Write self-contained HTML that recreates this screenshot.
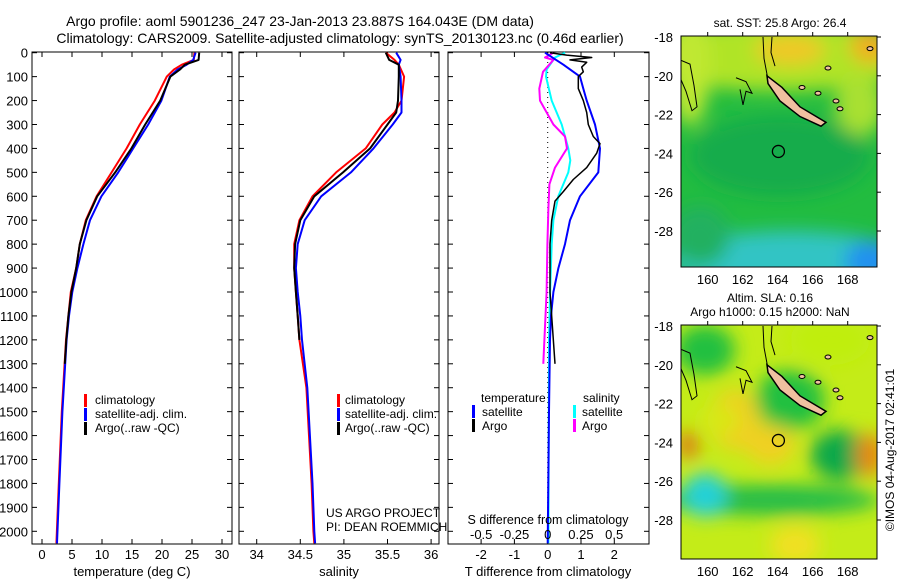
<!DOCTYPE html>
<html><head><meta charset="utf-8"><style>
body{margin:0;background:#fff}
svg{display:block;font-family:"Liberation Sans",sans-serif}
</style></head><body>
<svg id="s" width="900" height="580" viewBox="0 0 900 580">
<defs>
<filter id="bl" x="-50%" y="-50%" width="200%" height="200%"><feGaussianBlur stdDeviation="9"/></filter>
<clipPath id="c1"><rect x="681" y="36" width="196" height="231"/></clipPath>
<clipPath id="c2"><rect x="681" y="325" width="196" height="234"/></clipPath>
</defs>
<text x="300" y="26" font-size="14" text-anchor="middle">Argo profile: aoml 5901236_247 23-Jan-2013 23.887S 164.043E (DM data)</text>
<text x="340" y="43" font-size="14" text-anchor="middle">Climatology: CARS2009. Satellite-adjusted climatology: synTS_20130123.nc (0.46d earlier)</text>
<g id="g"></g>
</svg>
<script>
// depth grids
const depthT = [0,30,50,70,100,200,300,400,500,600,700,800,900,1000,1100,1200,1500,1800,2050];
const tempClim = [25.4,25.3,23.3,22.0,20.8,18.8,16.3,14.1,11.6,9.1,7.3,6.3,5.7,4.8,4.4,4.0,3.3,2.8,2.4];
const tempSat  = [25.6,25.2,24.1,22.6,21.3,19.9,17.7,15.2,12.7,9.9,8.0,6.9,5.9,5.05,4.5,4.1,3.4,2.9,2.5];
const depthArgo = [0,30,50,70,100,200,300,400,500,600,700,800,900,1000,1100,1200,1300];
const tempArgo = [26.2,26.1,23.8,23.0,21.4,19.7,17.2,14.9,12.2,9.2,7.4,6.3,5.7,4.9,4.4,4.05,3.8];
const depthS = [0,30,50,100,200,250,300,400,500,600,700,800,900,1000,1100,1200,1400,1600,1800,2000,2050];
const salClim = [35.48,35.58,35.63,35.69,35.66,35.58,35.44,35.25,34.91,34.64,34.49,34.43,34.43,34.45,34.47,34.49,34.57,34.6,34.63,34.65,34.66];
const salSat  = [35.6,35.65,35.63,35.65,35.66,35.66,35.56,35.34,35.08,34.74,34.55,34.47,34.45,34.47,34.5,34.52,34.58,34.61,34.64,34.66,34.67];
const salArgo = [35.48,35.52,35.63,35.63,35.62,35.6,35.5,35.3,34.99,34.66,34.5,34.44,34.43,34.45,34.47,34.49];
const depthDT = [0,50,100,150,200,300,400,500,600,700,800,900,1000,1100,1200,1500,2050];
const dTsat = [-0.08,0.47,0.97,1.07,1.17,1.42,1.57,1.52,0.97,0.67,0.52,0.32,0.17,0.1,0.07,0.04,0.0];
const depthDTa = [0,10,20,30,40,60,80,100,150,200,250,300,350,380,420,480,530,580,620,700,800,1000,1300];
const dTargo = [0.07,0.57,1.32,0.67,1.17,1.02,1.07,0.92,0.92,1.07,1.17,1.22,1.37,1.57,1.47,1.17,0.77,0.47,0.22,0.12,0.07,0.07,0.22];
const depthDS = [0,20,70,100,200,300,400,450,500,600,700,800,1000,1200,2050];
const dSsat = [0.13,0.055,-0.008,-0.013,0.03,0.105,0.155,0.17,0.155,0.08,0.043,0.03,0.018,0.01,0.005];
const depthDSa = [0,20,30,80,150,200,300,350,400,480,550,650,800,1000,1300];
const dSargo = [0.043,-0.02,0.043,-0.035,-0.063,-0.058,0.043,0.13,0.145,0.055,0.013,0.005,-0.002,-0.008,-0.033];
const depthTicks = [0,100,200,300,400,500,600,700,800,900,1000,1100,1200,1300,1400,1500,1600,1700,1800,1900,2000];
const tTicks = [0,5,10,15,20,25,30];
const sTicks = [34,34.5,35,35.5,36];
const dtTicks = [-2,-1,0,1,2];
const dsTicks = [-0.5,-0.25,0,0.25,0.5];
const dsLabels = ['-0.5','-0.25','0','0.25','0.5'];
const lonTicks = [160,162,164,166,168];
const latTicks = [18,20,22,24,26,28];

const NS='http://www.w3.org/2000/svg', G=document.getElementById('g');
function el(t,a,p){const e=document.createElementNS(NS,t);for(const k in a)e.setAttribute(k,a[k]);(p||G).appendChild(e);return e;}
const Y0=52.7, YTOP=52, YBOT=544;
const yD = d => Y0 + 0.2393*d;
const xT = v => 42 + 6*v;
const xS = v => 256.7 + 87.2*(v-34);
const xDT = v => 547.7 + 33.3*v;
const xDS = v => 547.7 + 133*v;

function frame(x0,x1,name,xt,xf,labs,ylab){
  const r=el('rect',{x:x0,y:YTOP,width:x1-x0,height:YBOT-YTOP,fill:'none',stroke:'#000','stroke-width':1});
  
  
  depthTicks.forEach(d=>{
    const y=yD(d);
    el('line',{x1:x0,x2:x0+5,y1:y,y2:y,stroke:'#000'});
    el('line',{x1:x1-5,x2:x1,y1:y,y2:y,stroke:'#000'});
    if(ylab){const t=el('text',{x:28,y:y+5,'font-size':13,'text-anchor':'end'});t.textContent=d;
      
      }
  });
  xt.forEach((v,i)=>{
    const x=xf(v);
    el('line',{x1:x,x2:x,y1:YTOP,y2:YTOP+5,stroke:'#000'});
    el('line',{x1:x,x2:x,y1:YBOT-5,y2:YBOT,stroke:'#000'});
    if(labs){const t=el('text',{x:x,y:559,'font-size':13,'text-anchor':'middle'});t.textContent=labs[i];
      
      }
  });
}
function line(ds,vs,xf,color,name,w){
  const pts=ds.map((d,i)=>xf(vs[i]).toFixed(1)+','+yD(d).toFixed(1)).join(' ');
  const p=el('polyline',{points:pts,fill:'none',stroke:color,'stroke-width':w||2,'stroke-linejoin':'round'});
  
  
}
function txt(x,y,s,fs,name,anchor,extra){
  const t=el('text',Object.assign({x:x,y:y,'font-size':fs,'text-anchor':anchor||'start'},extra||{}));t.textContent=s;
  
  
  return t;
}
function legTick(x,y,c){el('rect',{x:x,y:y-11,width:3,height:13,fill:c});}

// panel 1
frame(32,232,'temperature-panel',tTicks,xT,tTicks.map(String),true);
line(depthT,tempClim,xT,'#ff0000','temp-climatology-line');
line(depthT,tempSat,xT,'#0000ff','temp-satellite-line');
line(depthArgo,tempArgo,xT,'#000','temp-argo-line');
txt(132,576,'temperature (deg C)',13,'temperature-x-title','middle');
legTick(84,405,'#f00');txt(95,404,'climatology',12,'legend-climatology');
legTick(84,419,'#00f');txt(95,418,'satellite-adj. clim.',12,'legend-satellite');
legTick(84,433,'#000');txt(95,432,'Argo(..raw -QC)',12,'legend-argo');

// panel 2
frame(239,439,'salinity-panel',sTicks,xS,sTicks.map(String),false);
line(depthS,salClim,xS,'#ff0000','sal-climatology-line');
line(depthS,salSat,xS,'#0000ff','sal-satellite-line');
line(depthS.slice(0,salArgo.length),salArgo,xS,'#000','sal-argo-line');
txt(339,576,'salinity',13,'salinity-x-title','middle');
legTick(337,405,'#f00');txt(345,404,'climatology',12,'legend-climatology-2');
legTick(337,419,'#00f');txt(345,418,'satellite-adj. clim.',12,'legend-satellite-2');
legTick(337,433,'#000');txt(345,432,'Argo(..raw -QC)',12,'legend-argo-2');
txt(326,517,'US ARGO PROJECT',12,'credit-project');
txt(326,531,'PI: DEAN ROEMMICH',12,'credit-pi');

// panel 3
frame(448,649,'difference-panel',dtTicks,xDT,dtTicks.map(String),false);
el('line',{x1:547.7,x2:547.7,y1:YTOP,y2:yD(2000),stroke:'#000','stroke-dasharray':'1,4'});
line(depthDS,dSsat,xDS,'#00ffff','sal-diff-satellite-line');
line(depthDSa,dSargo,xDS,'#ff00ff','sal-diff-argo-line');
line(depthDT,dTsat,xDT,'#0000ff','temp-diff-satellite-line');
line(depthDTa,dTargo,xDT,'#000','temp-diff-argo-line',1.5);
dsTicks.forEach((v,i)=>txt(xDS(v),539,dsLabels[i],13,'s-diff-tick-label','middle'));
txt(548,524,'S difference from climatology',12.5,'s-diff-title','middle');
txt(548,576,'T difference from climatology',13,'t-diff-title','middle');
txt(481,402,'temperature',12,'legend-temperature-header');
legTick(472,416,'#00f');txt(482,416,'satellite',12,'legend-temp-satellite');
legTick(472,430,'#000');txt(482,430,'Argo',12,'legend-temp-argo');
txt(583,402,'salinity',12,'legend-salinity-header');
legTick(573,416,'#0ff');txt(582,416,'satellite',12,'legend-sal-satellite');
legTick(573,430,'#f0f');txt(582,430,'Argo',12,'legend-sal-argo');

// maps
const xL = lon => 707.7 + 17.5*(lon-160);
function map(y0,h,clip,blobs,base,name){
  const g=el('g',{'clip-path':'url(#'+clip+')'});
  
  
  el('rect',{x:681,y:y0,width:196,height:h,fill:base},g);
  const gb=el('g',{filter:'url(#bl)'},g);
  blobs.forEach(b=>el('ellipse',{cx:b[0],cy:y0+b[1],rx:b[2],ry:b[3],fill:b[4]},gb));
  const yl = lat => y0+1+19.4*(lat-18);
  el('path',{d:`M681 ${yl(19.2)} L690 ${yl(19.4)} L694 ${yl(20.5)} L697 ${yl(21.6)} L692 ${yl(21.8)} L686 ${yl(20.8)} L681 ${yl(20.2)}`,fill:'none',stroke:'#000'},g);
  el('path',{d:`M736 ${yl(20.1)} L746 ${yl(20.3)} L752 ${yl(20.9)} L746 ${yl(20.8)} L743 ${yl(21.5)} L740 ${yl(20.7)}`,fill:'none',stroke:'#000'},g);
  el('path',{d:`M763 ${yl(18)} L764 ${yl(19.1)} L768 ${yl(20.2)} M772 ${yl(18)} L771 ${yl(18.8)} L775 ${yl(19.5)}`,fill:'none',stroke:'#000'},g);
  el('path',{d:`M767 ${yl(20.0)} L782 ${yl(20.6)} L800 ${yl(21.6)} L826 ${yl(22.4)} L821 ${yl(22.6)} L800 ${yl(22.1)} L780 ${yl(21.3)} L768 ${yl(20.4)} Z`,fill:'#f0c0a0',stroke:'#000','stroke-width':1.5},g);
  [[802,20.6],[818,20.9],[836,21.3],[840,21.7],[828,19.6],[870,18.6]].forEach(p=>el('ellipse',{cx:p[0],cy:yl(p[1]),rx:3,ry:2,fill:'#f0c0a0',stroke:'#000'},g));
  el('circle',{cx:xL(164.04),cy:yl(23.9),r:6,fill:'none',stroke:'#000','stroke-width':1.3},g);
  el('rect',{x:681,y:y0,width:196,height:h,fill:'none',stroke:'#000'});
  latTicks.forEach(l=>{const y=yl(l);el('line',{x1:877,x2:881,y1:y,y2:y,stroke:'#000'});
    txt(673,y+5,'-'+l,13,'map-lat-label','end');});
  lonTicks.forEach(l=>{const x=xL(l);el('line',{x1:x,x2:x,y1:y0-4,y2:y0,stroke:'#000'});
    txt(x,y0+h+17,String(l),13,'map-lon-label','middle');});
}
map(36,231,'c1',[
 [780,20,140,35,'#b0e428'],[690,30,20,60,'#c0e830'],[790,14,35,15,'#f0c828'],[870,10,20,18,'#f0b020'],
 [860,70,25,30,'#a8e030'],[780,120,90,40,'#14ac4c'],[790,225,120,30,'#30c4c4'],[870,225,25,20,'#2090f0'],[700,200,30,30,'#20b060']
],'#22bc40','sst-map');
map(325,234,'c2',[
 [705,25,30,25,'#20c040'],[830,15,40,25,'#c0ee10'],[790,75,35,30,'#20c040'],[840,130,30,25,'#10a848'],
 [735,95,25,30,'#f0d020'],[688,120,10,14,'#e07010'],[870,130,14,22,'#e88810'],[770,120,25,20,'#f0d020'],
 [770,175,110,15,'#20bc48'],[705,170,22,22,'#20d0d8'],[795,220,25,20,'#f0e020'],[720,95,20,15,'#d8e818']
],'#c4ec18','sla-map');
txt(780,27,'sat. SST: 25.8 Argo: 26.4',12,'sst-map-title','middle');
txt(770,302,'Altim. SLA: 0.16',12,'sla-map-title','middle');
txt(770,316,'Argo h1000: 0.15 h2000: NaN',12,'sla-map-subtitle','middle');
txt(894,450,'©IMOS 04-Aug-2017 02:41:01',12,'timestamp','middle',{transform:'rotate(-90 894 450)'});
</script>
</body></html>
